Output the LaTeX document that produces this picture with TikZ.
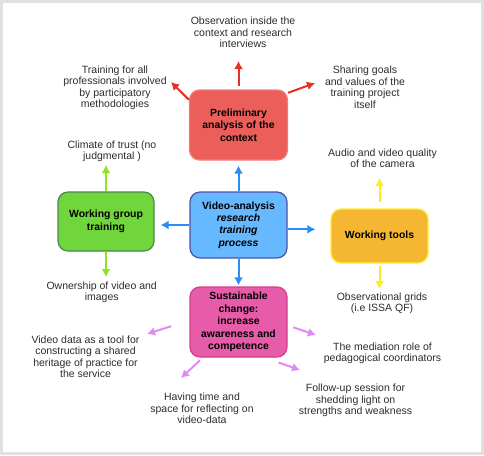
\documentclass[tikz,border=0pt]{standalone}
\usepackage{fontspec}
\setmainfont{Liberation Sans}
\usetikzlibrary{arrows.meta}
\definecolor{framegray}{RGB}{224,224,224}
\definecolor{textgray}{RGB}{45,45,45}
\definecolor{redfill}{RGB}{235,94,89}
\definecolor{redline}{RGB}{242,125,120}
\definecolor{redarrow}{RGB}{232,48,40}
\definecolor{bluefill}{RGB}{102,184,255}
\definecolor{blueline}{RGB}{80,80,170}
\definecolor{bluearrow}{RGB}{40,140,250}
\definecolor{greenfill}{RGB}{112,214,60}
\definecolor{greenline}{RGB}{75,135,80}
\definecolor{greenarrow}{RGB}{140,230,30}
\definecolor{yellowfill}{RGB}{245,183,50}
\definecolor{yellowline}{RGB}{255,238,50}
\definecolor{yellowarrow}{RGB}{255,236,30}
\definecolor{pinkfill}{RGB}{230,92,168}
\definecolor{pinkline}{RGB}{215,60,140}
\definecolor{pinkarrow}{RGB}{222,140,245}
\begin{document}
\begin{tikzpicture}[x=1pt,y=-1pt]
        \tikzstyle{box}=[rectangle,rounded corners=10pt,line width=1.2pt,align=center,inner sep=2pt,font=\fontsize{10.4}{12.4}\selectfont\bfseries]
        \tikzstyle{note}=[align=center,inner sep=0pt,text=textgray,font=\fontsize{10.5}{11.5}\selectfont]
        \tikzstyle{edge}=[line width=2pt,-{Latex[length=8pt,width=9pt]}]
        % frame
        \fill[framegray] (0,0) rectangle (484,455);
        \fill[white] (3,3) rectangle (481,452);
        \begin{scope}
           \node [box,fill=redfill,draw=redline,minimum width=98pt,minimum height=70pt] (prelim) at (238.5,125) {Preliminary\\analysis of the\\context};
           \node [box,fill=bluefill,draw=blueline,minimum width=97pt,minimum height=66pt] (video) at (238.5,225) {Video-analysis\\\textit{research}\\\textit{training}\\\textit{process}};
           \node [box,fill=greenfill,draw=greenline,minimum width=96pt,minimum height=59pt] (group) at (106,221.5) {Working group\\training};
           \node [box,fill=yellowfill,draw=yellowline,minimum width=97pt,minimum height=54pt] (tools) at (379.5,236) {Working tools};
           \node [box,fill=pinkfill,draw=pinkline,minimum width=97pt,minimum height=70pt] (change) at (238.5,322) {Sustainable\\change:\\increase\\awareness and\\competence};
           % notes
           \node [note] (observe) at (243,32.3) {Observation inside the\\context and research\\interviews};
           \node [note] (trainall) at (115,88) {Training for all\\professionals involved\\by participatory\\methodologies};
           \node [note] (sharing) at (365,87) {Sharing goals\\and values of the\\training project\\itself};
           \node [note] (climate) at (112,151.2) {Climate of trust (no\\judgmental )};
           \node [note] (audio) at (382.5,158.3) {Audio and video quality\\of the camera};
           \node [note] (owner) at (101.7,292.5) {Ownership of video and\\images};
           \node [note] (grids) at (382,303.5) {Observational grids\\(i.e ISSA QF)};
           \node [note] (heritage) at (85.5,356.5) {Video data as a tool for\\constructing a shared\\heritage of practice for\\the service};
           \node [note] (mediation) at (382.5,353.5) {The mediation role of\\pedagogical coordinators};
           \node [note] (reflect) at (202,408.7) {Having time and\\space for reflecting on\\video-data};
           \node [note] (follow) at (355.5,400.6) {Follow-up session for\\shedding light on\\strengths and weakness};
           % arrow tips
           \coordinate (tip-observe) at (238.5,61);
           \coordinate (tip-trainall) at (171,82);
           \coordinate (tip-sharing) at (315,83);
           \coordinate (tip-climate) at (106,165);
           \coordinate (tip-owner) at (106,277);
           \coordinate (tip-audio) at (379.5,178);
           \coordinate (tip-grids) at (379.5,289);
           \coordinate (tip-heritage) at (147,334);
           \coordinate (tip-mediation) at (316,335);
           \coordinate (tip-reflect) at (181,378);
           \coordinate (tip-follow) at (300,370);
           % connectors
           \draw[edge,redarrow,shorten <=3pt] (prelim.north) -- (tip-observe);
           \draw[edge,redarrow] (prelim.153) -- (tip-trainall);
           \draw[edge,redarrow] (prelim.33) -- (tip-sharing);
           \draw[edge,bluearrow,shorten >=5pt] (video.north) -- (prelim.south);
           \draw[edge,bluearrow,shorten >=6pt] (video.west) -- (group.east |- video.west);
           \draw[edge,bluearrow,shorten >=15pt] (video.-5) -- (tools.west |- video.-5);
           \draw[edge,bluearrow,shorten >=1pt] (video.south) -- (change.north);
           \draw[edge,greenarrow] (group.north) -- (tip-climate);
           \draw[edge,greenarrow] (group.south) -- (tip-owner);
           \draw[edge,yellowarrow,shorten <=6pt] (tools.north) -- (tip-audio);
           \draw[edge,yellowarrow,shorten <=2pt] (tools.south) -- (tip-grids);
           \draw[edge,pinkarrow,shorten <=19pt] (change.178) -- (tip-heritage);
           \draw[edge,pinkarrow,shorten <=6pt] (change.-4) -- (tip-mediation);
           \draw[edge,pinkarrow,shorten <=4pt] (change.225) -- (tip-reflect);
           \draw[edge,pinkarrow,shorten <=15pt] (change.-54) -- (tip-follow);
        \end{scope}
\end{tikzpicture}
\end{document}
